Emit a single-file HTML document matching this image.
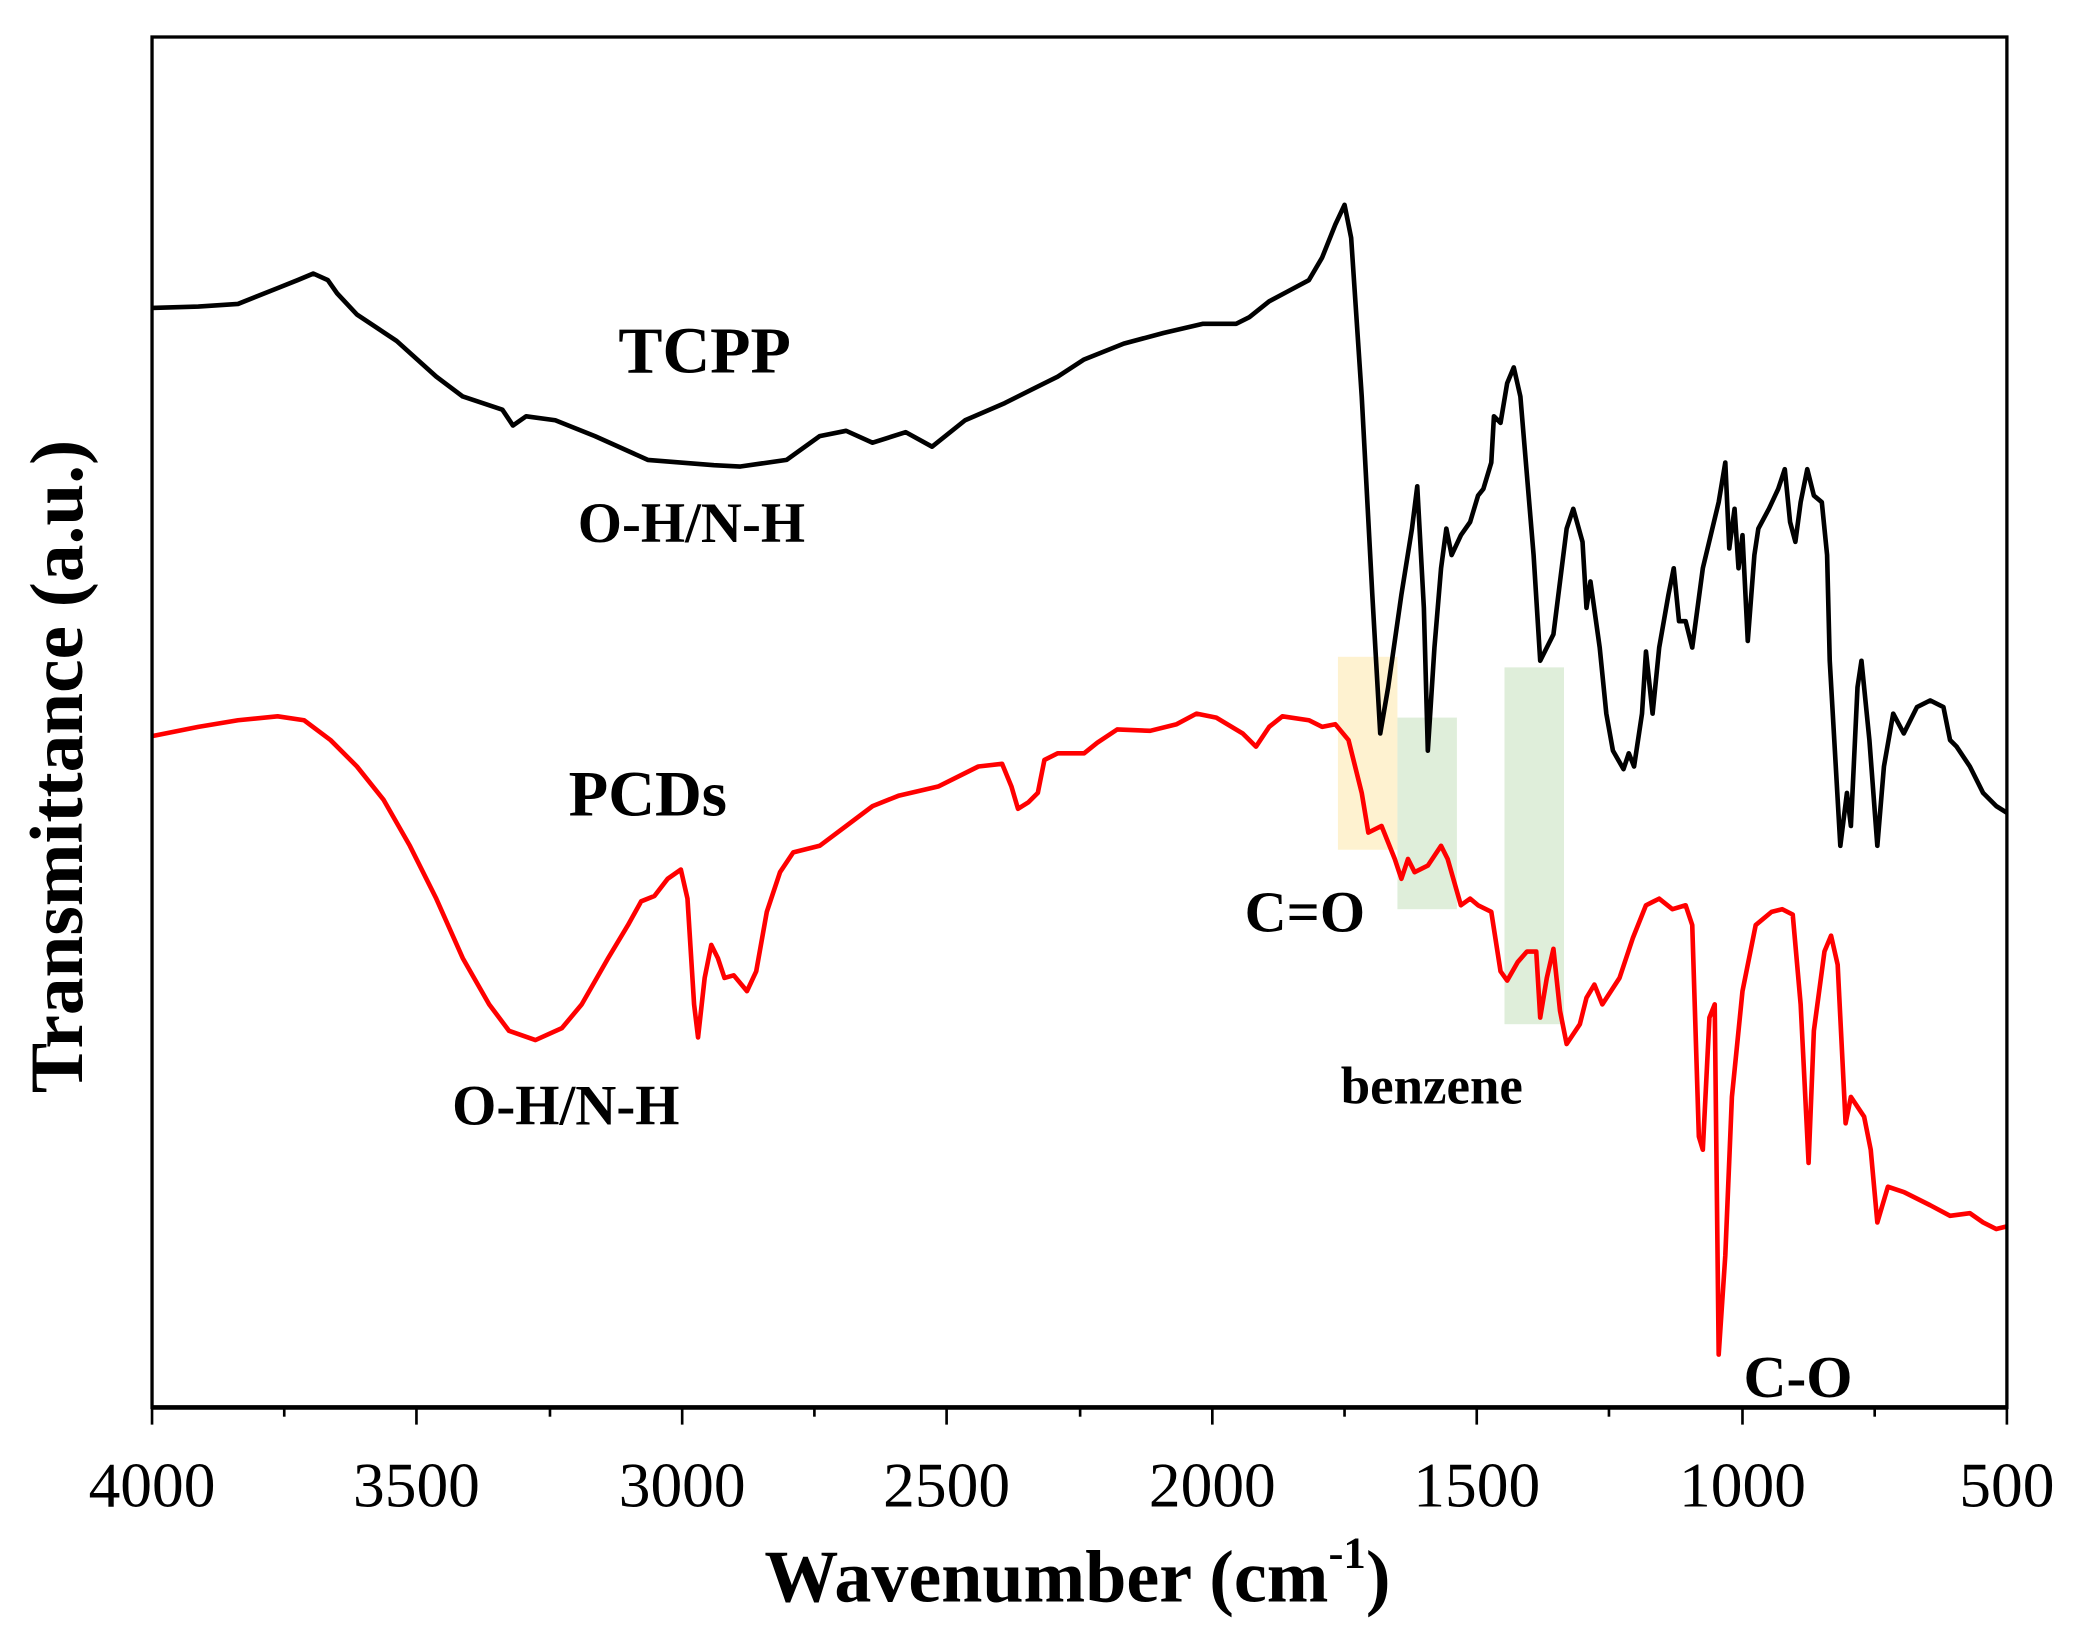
<!DOCTYPE html>
<html><head><meta charset="utf-8"><style>
html,body{margin:0;padding:0;background:#fff;}
svg{display:block;}
text{font-family:"Liberation Serif",serif;fill:#000;}
</style></head><body>
<svg width="2073" height="1644" viewBox="0 0 1568 1244" preserveAspectRatio="none" xmlns="http://www.w3.org/2000/svg">
<rect x="1012" y="497" width="45" height="146" fill="#fde9b0" opacity="0.6"/>
<rect x="1057" y="543" width="45" height="145" fill="#c9e3c2" opacity="0.6"/>
<rect x="1138" y="505" width="45" height="270" fill="#c9e3c2" opacity="0.6"/>
<polyline fill="none" stroke="#000" stroke-width="3.5" stroke-linejoin="round" points="115,233 150,232 180,230 210,218 225,212 237,207 248,212 255,222 270,238 300,258 330,285 350,300 380,310 388,322 398,315 420,318 450,330 490,348 540,352 560,353 595,348 620,330 640,326 660,335 685,327 705,338 730,318 760,305 780,295 800,285 820,272 850,260 880,252 910,245 935,245 945,240 960,228 975,220 990,212 1000,195 1010,170 1017,155 1022,180 1030,300 1038,450 1044,555 1050,520 1060,450 1068,400 1072,368 1077,460 1080,568 1085,490 1090,430 1094,400 1098,420 1105,405 1112,395 1118,375 1122,370 1128,350 1130,315 1135,320 1140,290 1145,278 1150,300 1160,420 1165,500 1175,480 1185,400 1190,385 1197,410 1200,460 1203,440 1210,490 1215,540 1220,568 1228,582 1232,570 1236,580 1242,540 1245,493 1250,540 1255,490 1262,450 1266,430 1270,470 1275,470 1280,490 1288,430 1294,405 1300,380 1305,350 1308,415 1312,385 1315,430 1318,405 1322,485 1327,420 1330,400 1338,385 1345,370 1350,355 1354,395 1358,410 1362,380 1367,355 1372,375 1378,380 1382,420 1384,500 1392,640 1397,600 1400,625 1405,520 1408,500 1414,560 1420,640 1425,580 1432,540 1440,555 1450,535 1460,530 1470,535 1475,560 1480,565 1490,580 1500,600 1510,610 1518,615"/>
<polyline fill="none" stroke="#f00" stroke-width="3.5" stroke-linejoin="round" points="115,557 150,550 180,545 210,542 230,545 250,560 270,580 290,605 310,640 330,680 350,725 370,760 385,780 405,787 425,778 440,760 460,725 475,700 485,682 495,678 505,665 515,658 520,680 525,760 528,785 533,740 538,715 543,725 548,740 555,738 565,750 572,735 580,690 590,660 600,645 620,640 640,625 660,610 680,602 710,595 740,580 758,578 765,595 770,612 778,607 785,600 790,575 800,570 820,570 830,562 845,552 870,553 890,548 905,540 920,543 940,555 950,565 960,550 970,542 990,545 1000,550 1010,548 1020,560 1030,600 1035,630 1045,625 1055,650 1060,665 1065,650 1070,660 1080,655 1090,640 1095,650 1105,685 1112,680 1118,685 1128,690 1135,735 1140,742 1148,728 1155,720 1162,720 1165,770 1170,740 1175,718 1180,765 1185,790 1195,775 1200,755 1206,745 1212,760 1225,740 1235,710 1245,685 1255,680 1265,688 1275,685 1280,700 1285,860 1288,870 1293,770 1297,760 1300,1025 1305,950 1310,830 1318,750 1328,700 1340,690 1348,688 1356,692 1362,760 1368,880 1372,780 1380,720 1385,708 1390,730 1396,850 1400,830 1410,845 1415,870 1420,925 1428,898 1440,902 1460,912 1475,920 1490,918 1500,925 1510,930 1518,928"/>
<rect x="115" y="28" width="1403" height="1037" fill="none" stroke="#000" stroke-width="2.5"/>
<line x1="115" y1="1065" x2="1518" y2="1065" stroke="#000" stroke-width="3.5"/>
<g stroke="#000" stroke-width="2">
<line x1="115" y1="1065" x2="115" y2="1078"/><line x1="215" y1="1065" x2="215" y2="1072"/>
<line x1="315" y1="1065" x2="315" y2="1078"/><line x1="416" y1="1065" x2="416" y2="1072"/>
<line x1="516" y1="1065" x2="516" y2="1078"/><line x1="616" y1="1065" x2="616" y2="1072"/>
<line x1="716" y1="1065" x2="716" y2="1078"/><line x1="817" y1="1065" x2="817" y2="1072"/>
<line x1="917" y1="1065" x2="917" y2="1078"/><line x1="1017" y1="1065" x2="1017" y2="1072"/>
<line x1="1117" y1="1065" x2="1117" y2="1078"/><line x1="1217" y1="1065" x2="1217" y2="1072"/>
<line x1="1318" y1="1065" x2="1318" y2="1078"/><line x1="1418" y1="1065" x2="1418" y2="1072"/>
<line x1="1518" y1="1065" x2="1518" y2="1078"/>
</g>
<g font-size="48" text-anchor="middle">
<text x="115" y="1140">4000</text><text x="315" y="1140">3500</text><text x="516" y="1140">3000</text>
<text x="716" y="1140">2500</text><text x="917" y="1140">2000</text><text x="1117" y="1140">1500</text>
<text x="1318" y="1140">1000</text><text x="1518" y="1140">500</text>
</g>
<text x="815" y="1212" font-size="56" font-weight="bold" text-anchor="middle">Wavenumber (cm<tspan font-size="34" dy="-26">-1</tspan><tspan dy="26">)</tspan></text>
<text transform="translate(62,580) rotate(-90)" font-size="57" font-weight="bold" text-anchor="middle">Transmittance (a.u.)</text>
<g font-weight="bold" text-anchor="middle">
<text x="533" y="282" font-size="50">TCPP</text>
<text x="523" y="410" font-size="43">O-H/N-H</text>
<text x="490" y="617" font-size="49">PCDs</text>
<text x="428" y="851" font-size="43">O-H/N-H</text>
<text x="987" y="705" font-size="44">C=O</text>
<text x="1083" y="835" font-size="40">benzene</text>
<text x="1360" y="1057" font-size="45">C-O</text>
</g>
</svg>
</body></html>
